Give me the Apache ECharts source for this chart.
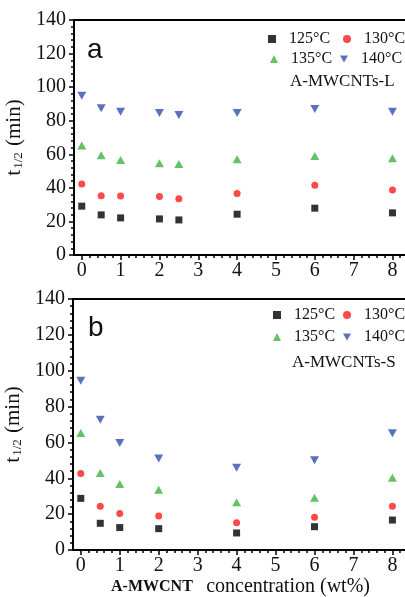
<!DOCTYPE html>
<html>
<head>
<meta charset="utf-8">
<script src="https://cdn.jsdelivr.net/npm/echarts@6/dist/echarts.min.js"></script>
<style>html,body{margin:0;padding:0;background:#fff;}#c{width:405px;height:597px;}</style>
</head>
<body>
<div id="c"></div>
<script>
// ---------- data ----------
var xA = [0, 0.5, 1, 2, 2.5, 4, 6, 8];
var a125 = [29.1, 23.9, 22.1, 21.5, 20.9, 24.3, 27.9, 25.1];
var a130 = [42.3, 35.3, 35.1, 34.9, 33.5, 36.7, 41.5, 38.7];
var a135 = [65.2, 59.4, 56.6, 54.6, 54.2, 57.0, 59.0, 57.6];
var a140 = [94.9, 87.4, 85.4, 84.6, 83.4, 84.6, 87.0, 85.4];

var xB = [0, 0.5, 1, 2, 4, 6, 8];
var b125 = [28.8, 14.9, 12.5, 11.9, 9.5, 13.0, 16.7];
var b130 = [42.6, 24.4, 20.3, 19.0, 15.2, 18.2, 24.4];
var b135 = [65.3, 42.9, 36.8, 33.6, 26.6, 29.2, 40.3];
var b140 = [94.4, 72.7, 59.7, 51.1, 45.9, 50.0, 65.1];

var seriesNames = ['125°C', '130°C', '135°C', '140°C'];
var xTickLabels = [0, 1, 2, 3, 4, 5, 6, 7, 8];
var xMinorTicks = [];
for (var i = 0; i < 8; i++) { for (var k = 1; k <= 4; k++) { xMinorTicks.push(+(i + k * 0.2).toFixed(1)); } }
xMinorTicks.push(8.2);
var yMinorTicks = [];
for (var v = 0; v < 140; v += 20) { for (var m = 1; m <= 4; m++) { yMinorTicks.push(v + m * 4); } }

// ---------- styling ----------
var colors = ['#000000', '#ff1a1a', '#3fb23f', '#2e4fae'];
var downTri = 'path://M0,0 L10,0 L5,8.66 Z';
var symbols = ['rect', 'circle', 'triangle', downTri];
var symSizes = [7, 7, [9, 8], [9, 8]];
var serif = 'Liberation Serif';
var XMIN = -0.2, XMAX = 8.4;
var frameLine = { show: true, onZero: false, lineStyle: { color: '#000', width: 2 } };

function zip(xs, ys) { return xs.map(function (x, i) { return [x, ys[i]]; }); }

var gridBoxes = [
  { left: 74, top: 20, width: 334, height: 235 },
  { left: 73, top: 299, width: 335, height: 251 }
];

var grids = [], xAxes = [], yAxes = [], series = [];

function addPanel(p, showName, xs, arrs) {
  var b = gridBoxes[p];
  var gMain = grids.length;
  grids.push({ left: b.left, top: b.top, width: b.width, height: b.height, outerBoundsMode: 'none' });
  var gMinor = grids.length;
  grids.push({ left: b.left, top: b.top, width: b.width, height: b.height, outerBoundsMode: 'none' });

  var xMainIdx = xAxes.length;
  var xm = {
    type: 'value', gridIndex: gMain, min: XMIN, max: XMAX, position: 'bottom',
    axisLine: frameLine,
    axisTick: { show: true, customValues: xTickLabels, length: 5, lineStyle: { color: '#000', width: 1.5 } },
    axisLabel: { customValues: xTickLabels, fontFamily: serif, fontSize: 20, color: '#111', margin: 6 },
    splitLine: { show: false }
  };
  if (showName) {
    xm.name = '{b|A-MWCNT}    {r|concentration (wt%)}';
    xm.nameLocation = 'middle';
    xm.nameGap = 24;
    xm.nameTextStyle = {
      rich: {
        b: { fontFamily: serif, fontWeight: 'bold', fontSize: 16, color: '#111' },
        r: { fontFamily: serif, fontSize: 20, color: '#111' }
      }
    };
  }
  xAxes.push(xm);
  // minor ticks + top frame line (second grid, same box)
  xAxes.push({
    type: 'value', gridIndex: gMinor, min: XMIN, max: XMAX, position: 'bottom',
    axisLine: frameLine,
    axisTick: { show: true, customValues: xMinorTicks, length: 3, lineStyle: { color: '#000', width: 1.5 } },
    axisLabel: { show: false }, splitLine: { show: false }
  });
  xAxes.push({
    type: 'value', gridIndex: gMinor, min: XMIN, max: XMAX, position: 'top',
    axisLine: frameLine,
    axisTick: { show: false }, axisLabel: { show: false }, splitLine: { show: false }
  });

  var yMainIdx = yAxes.length;
  yAxes.push({
    type: 'value', gridIndex: gMain, min: 0, max: 140, interval: 20, position: 'left',
    axisLine: frameLine,
    axisTick: { show: true, length: 5, lineStyle: { color: '#000', width: 1.5 } },
    axisLabel: { fontFamily: serif, fontSize: 20, color: '#111', margin: 8 },
    splitLine: { show: false },
    name: '{t|t}{s|1/2}{t| (min)}',
    nameLocation: 'middle', nameGap: 29, nameRotate: 90,
    nameTextStyle: {
      rich: {
        t: { fontFamily: serif, fontSize: 21, color: '#111' },
        s: { fontFamily: serif, fontSize: 13, color: '#111', verticalAlign: 'bottom', padding: [9, 1, 0, 1] }
      }
    }
  });
  yAxes.push({
    type: 'value', gridIndex: gMinor, min: 0, max: 140, position: 'left',
    axisLine: frameLine,
    axisTick: { show: true, customValues: yMinorTicks, length: 3, lineStyle: { color: '#000', width: 1.5 } },
    axisLabel: { show: false }, splitLine: { show: false }
  });

  arrs.forEach(function (arr, j) {
    series.push({
      type: 'scatter', name: seriesNames[j], xAxisIndex: xMainIdx, yAxisIndex: yMainIdx,
      data: zip(xs, arr), symbol: symbols[j], symbolSize: symSizes[j],
      itemStyle: { color: colors[j] }
    });
  });
}

addPanel(0, false, xA, [a125, a130, a135, a140]);
addPanel(1, true, xB, [b125, b130, b135, b140]);

function legendItem(name, iconX, y) {
  var j = seriesNames.indexOf(name);
  return {
    data: [{ name: name, icon: symbols[j] }],
    left: iconX - 4, top: y - 9, itemWidth: 8, itemHeight: 8, itemGap: 0,
    padding: 0, selectedMode: false,
    textStyle: { fontFamily: serif, fontSize: 16, color: '#111', padding: [0, 0, 0, 8] }
  };
}

var legends = [
  legendItem('125°C', 272, 40), legendItem('130°C', 347, 40),
  legendItem('135°C', 274, 60), legendItem('140°C', 344, 60),
  legendItem('125°C', 277, 316), legendItem('130°C', 347, 316),
  legendItem('135°C', 277, 338), legendItem('140°C', 347, 338)
];

var option = {
  animation: false,
  backgroundColor: '#fff',
  grid: grids,
  xAxis: xAxes,
  yAxis: yAxes,
  legend: legends,
  series: series,
  graphic: [
    { type: 'text', left: 87, top: 36, style: { text: 'a', fontFamily: 'Liberation Sans', fontSize: 28, fill: '#111' } },
    { type: 'text', left: 88, top: 314, style: { text: 'b', fontFamily: 'Liberation Sans', fontSize: 28, fill: '#111' } },
    { type: 'text', left: 290, top: 73, style: { text: 'A-MWCNTs-L', fontFamily: serif, fontSize: 17, fill: '#111' } },
    { type: 'text', left: 292, top: 354, style: { text: 'A-MWCNTs-S', fontFamily: serif, fontSize: 17, fill: '#111' } }
  ]
};

var chart = echarts.init(document.getElementById('c'), null, { renderer: 'canvas' });
chart.setOption(option);
</script>
</body>
</html>
